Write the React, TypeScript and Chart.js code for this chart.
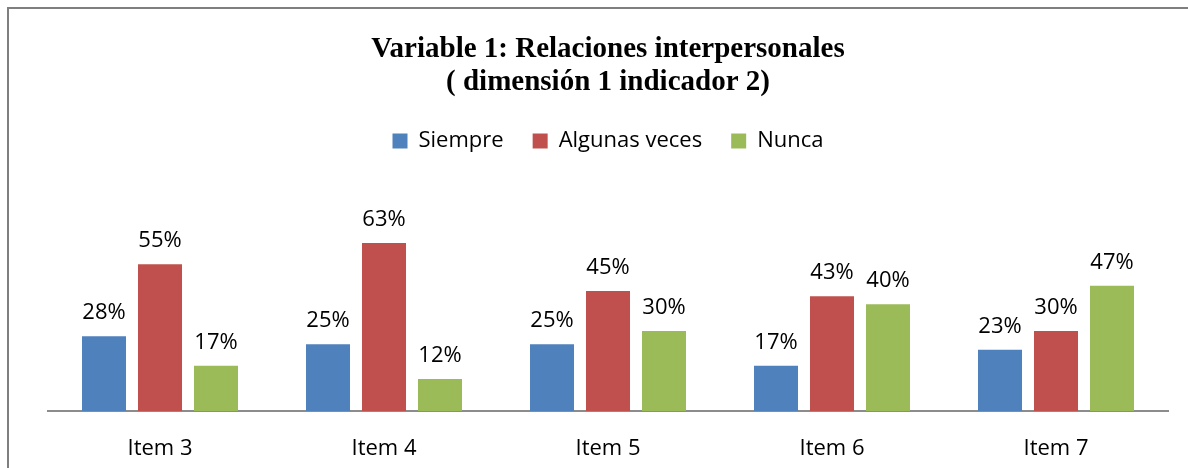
import React, { useEffect, useRef } from "react";
import { Chart, registerables } from "chart.js";

Chart.register(...registerables);

const categories = ["Item 3", "Item 4", "Item 5", "Item 6", "Item 7"];
const siempre = [28, 25, 25, 17, 23];
const algunasVeces = [55, 63, 45, 43, 30];
const nunca = [17, 12, 30, 40, 47];
const seriesNames = ["Siempre", "Algunas veces", "Nunca"];
const seriesColors = ["#4F81BD", "#C0504D", "#9BBB59"];
const titleLines = ["Variable 1: Relaciones interpersonales", "( dimensión 1 indicador 2)"];

const SANS = "'Open Sans', sans-serif";

const valueLabels = {
  id: "valueLabels",
  afterDatasetsDraw(chart: any) {
    const ctx = chart.ctx;
    ctx.save();
    ctx.font = `22px ${SANS}`;
    ctx.fillStyle = "#000";
    ctx.textAlign = "center";
    ctx.textBaseline = "alphabetic";
    chart.data.datasets.forEach((ds: any, di: number) => {
      const meta = chart.getDatasetMeta(di);
      meta.data.forEach((el: any, i: number) => {
        ctx.fillText(`${ds.data[i]}%`, el.x, el.y - 17);
      });
    });
    ctx.restore();
  },
};

export default function App() {
  const ref = useRef<HTMLCanvasElement>(null);
  useEffect(() => {
    if (!ref.current) return;
    const chart = new Chart(ref.current, {
      type: "bar",
      data: {
        labels: categories,
        datasets: [siempre, algunasVeces, nunca].map((d, i) => ({
          label: seriesNames[i],
          data: d,
          backgroundColor: seriesColors[i],
          borderWidth: 0,
          categoryPercentage: 0.75,
          barPercentage: 0.786,
        })),
      },
      options: {
        animation: false,
        responsive: false,
        devicePixelRatio: 1,
        layout: { padding: { left: 48, right: 20, top: 31, bottom: 0 } },
        plugins: {
          tooltip: { enabled: false },
          title: {
            display: true,
            text: titleLines,
            color: "#000",
            font: { family: "'Liberation Serif', serif", size: 29, weight: "bold", lineHeight: 33 / 29 },
            padding: { top: 2, bottom: 2 },
          },
          legend: {
            display: true,
            position: "top",
            labels: {
              boxWidth: 15,
              boxHeight: 15,
              padding: 29,
              color: "#000",
              font: { family: SANS, size: 22 },
            },
          },
        },
        scales: {
          x: {
            grid: { display: false, drawTicks: false },
            border: { display: true, color: "#8C8C8C", width: 2 },
            ticks: { color: "#000", padding: 25, font: { family: SANS, size: 22 } },
            afterFit(scale: any) {
              scale.height = 57;
            },
          },
          y: {
            display: false,
            min: 0,
            max: 93.4,
          },
        },
      },
      plugins: [valueLabels],
    });
    return () => chart.destroy();
  }, []);

  return (
    <div style={{ position: "fixed", left: 0, top: 0, width: 1188, height: 468, overflow: "hidden", background: "#fff" }}>
      <div
        style={{
          position: "absolute",
          left: 7,
          top: 7,
          width: 1400,
          height: 700,
          border: "2px solid #7F7F7F",
        }}
      />
      <canvas ref={ref} width={1188} height={468} style={{ position: "absolute", left: 0, top: 0 }} />
    </div>
  );
}
